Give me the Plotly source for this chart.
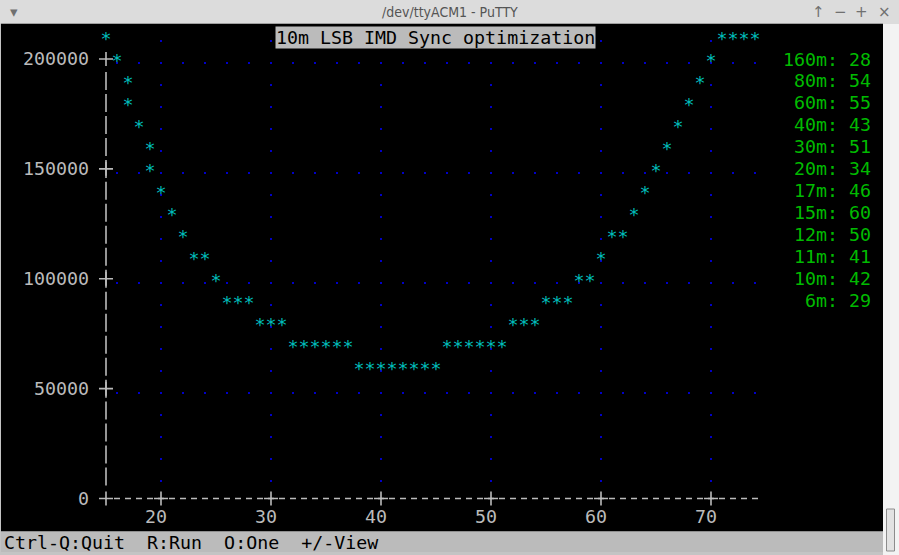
import plotly.graph_objects as go

# ---------------- data ----------------
x_vals = [15, 16, 17, 17, 18, 19, 19, 20, 21, 22, 23, 24, 25,
          26, 27, 28, 29, 30, 31,
          32, 33, 34, 35, 36, 37,
          38, 39, 40, 41, 42, 43, 44, 45,
          46, 47, 48, 49, 50, 51,
          52, 53, 54, 55, 56, 57, 58, 59, 60, 61, 62,
          63, 64, 65, 66, 67, 68, 69, 70, 71, 72, 73, 74]
y_vals = [210000, 200000, 190000, 180000, 170000, 160000, 150000, 140000, 130000, 120000, 110000, 110000, 100000,
          90000, 90000, 90000, 80000, 80000, 80000,
          70000, 70000, 70000, 70000, 70000, 70000,
          60000, 60000, 60000, 60000, 60000, 60000, 60000, 60000,
          70000, 70000, 70000, 70000, 70000, 70000,
          80000, 80000, 80000, 90000, 90000, 90000, 100000, 100000, 110000, 120000, 120000,
          130000, 140000, 150000, 160000, 170000, 180000, 190000, 200000, 210000, 210000, 210000, 210000]

x_ticks = [20, 30, 40, 50, 60, 70]
x_tick_labels = ["20", "30", "40", "50", "60", "70"]
y_ticks = [0, 50000, 100000, 150000, 200000]
y_tick_labels = ["0", "50000", "100000", "150000", "200000"]

bands = ["160m", "80m", "60m", "40m", "30m", "20m", "17m", "15m", "12m", "11m", "10m", "6m"]
band_values = [28, 54, 55, 43, 51, 34, 46, 60, 50, 41, 42, 29]

title_text = "10m LSB IMD Sync optimization"
status_text = "Ctrl-Q:Quit  R:Run  O:One  +/-View"
window_title = "/dev/ttyACM1 - PuTTY"

# ---------------- geometry / style ----------------
W, H = 899, 555
X_LO, X_HI = 14, 76
PX_PER_X = 11.0
L = 95.0
R = L + (X_HI - X_LO) * PX_PER_X
ROW = 21.975            # px per 10000
STEP = 10000
Y0_PX = 498.5
T, B = 18.0, 500.0
Y_LO = -(B - Y0_PX) / ROW * STEP
Y_HI = (Y0_PX - T) / ROW * STEP
SHIFT = 3.9 / ROW * STEP  # overlay axis for glyph baseline / grid dots

FONT = "DejaVu Sans Mono"
FS = 18.3
FG = "#BBBBBB"
CYAN = "#00BBBB"
GREEN = "#00BB00"
BLUE = "#0000C8"


def pxx(px):
    return (px - L) / (R - L)


def pxy(py):
    return (B - py) / (B - T)


# dot patterns for grid (terminal '.' characters)
h_dash = "0px,20.5px," + ",".join(["2px,20px"] * 29) + ",2px,300px"
v_dash = "0px,22px," + ",".join(["2px,19.975px"] * 20) + ",2px,300px"

fig = go.Figure()

# star glyphs
fig.add_trace(go.Scatter(
    x=x_vals, y=y_vals, mode="text", text=["*"] * len(x_vals),
    textfont=dict(family=FONT, size=FS, color=CYAN),
    yaxis="y2", cliponaxis=False, hoverinfo="skip", showlegend=False))

# '+' tick crosses on axes
fig.add_trace(go.Scatter(
    x=[X_LO + 1] * len(y_ticks) + x_ticks,
    y=y_ticks + [0] * len(x_ticks),
    mode="markers",
    marker=dict(symbol="cross-thin", size=10, line=dict(width=1.6, color=FG)),
    cliponaxis=False, hoverinfo="skip", showlegend=False))

shapes = [
    # window frame pieces (paper)
    dict(type="rect", xref="paper", yref="paper", x0=pxx(1), x1=pxx(883), y0=pxy(23.5), y1=pxy(531.5),
         fillcolor="black", line=dict(width=0), layer="below"),
    dict(type="rect", xref="paper", yref="paper", x0=pxx(1), x1=pxx(883), y0=pxy(531.5), y1=pxy(552),
         fillcolor="#BBBBBB", line=dict(width=0), layer="below"),
    dict(type="rect", xref="paper", yref="paper", x0=pxx(883), x1=pxx(899), y0=pxy(23.5), y1=pxy(555),
         fillcolor="#F3F3F3", line=dict(width=0), layer="below"),
    dict(type="rect", xref="paper", yref="paper", x0=pxx(886.5), x1=pxx(894.5), y0=pxy(509), y1=pxy(551),
         fillcolor="#E2E2E2", line=dict(width=1, color="#8C8C8C"), layer="below"),
    dict(type="rect", xref="paper", yref="paper", x0=pxx(0), x1=pxx(899), y0=pxy(0), y1=pxy(23.5),
         fillcolor="#DCDCDC", line=dict(width=0), layer="below"),
    # axis lines made of '|' and '-' characters
    dict(type="line", xref="x", yref="y", x0=X_LO + 1, x1=X_LO + 1,
         y0=STEP * (1 - 9.0 / ROW), y1=STEP * (19 + 9.0 / ROW),
         line=dict(color=FG, width=1.6, dash="18px,3.975px"), layer="below"),
    dict(type="line", xref="x", yref="y", x0=X_LO + 2 - 3.0 / PX_PER_X, x1=74 + 3.0 / PX_PER_X,
         y0=0, y1=0, line=dict(color=FG, width=1.6, dash="6px,5px"), layer="below"),
]

annotations = [
    dict(text=title_text, xref="paper", yref="y", x=pxx(435.5), y=210000,
         xanchor="center", yanchor="middle", showarrow=False, bgcolor="#BBBBBB",
         borderpad=0, font=dict(family=FONT, size=FS, color="black")),
    dict(text=status_text, xref="paper", yref="paper", x=pxx(1.5), y=pxy(542),
         xanchor="left", yanchor="middle", showarrow=False,
         font=dict(family=FONT, size=FS, color="black")),
    dict(text=window_title, xref="paper", yref="paper", x=pxx(449.5), y=pxy(12),
         xanchor="center", yanchor="middle", showarrow=False,
         font=dict(family="Liberation Sans Narrow, DejaVu Sans Condensed, Liberation Sans", size=14, color="#555555")),
]
for gx, gch in zip([14, 818, 840, 862, 884], ["▾", "↑", "−", "+", "×"]):
    annotations.append(dict(text=gch, xref="paper", yref="paper", x=pxx(gx), y=pxy(12),
                            xanchor="center", yanchor="middle", showarrow=False,
                            font=dict(family="DejaVu Sans", size=15, color="#707070")))
for i, (b, v) in enumerate(zip(bands, band_values)):
    annotations.append(dict(text=f"{b}: {v}", xref="paper", yref="y", x=pxx(873), y=200000 - i * STEP,
                            xanchor="right", yanchor="middle", showarrow=False,
                            font=dict(family=FONT, size=FS, color=GREEN)))

fig.update_layout(
    width=W, height=H,
    margin=dict(l=L, r=W - R, t=T, b=H - B, pad=0, autoexpand=False),
    paper_bgcolor="#C4C4C4", plot_bgcolor="rgba(0,0,0,0)",
    showlegend=False, shapes=shapes, annotations=annotations,
    xaxis=dict(range=[X_LO, X_HI], tickvals=x_ticks, ticktext=x_tick_labels,
               showgrid=True, gridcolor=BLUE, gridwidth=2, griddash=v_dash,
               zeroline=False, showline=False, ticks="", automargin=False,
               tickfont=dict(family=FONT, size=FS, color=FG),
               ticklabelshift=-5, ticklabelstandoff=4, fixedrange=True),
    yaxis=dict(range=[Y_LO, Y_HI], tickvals=y_ticks, ticktext=y_tick_labels,
               showgrid=False, zeroline=False, showline=False, ticks="", automargin=False,
               tickfont=dict(family=FONT, size=FS, color=FG),
               ticklabelstandoff=5, fixedrange=True),
    yaxis2=dict(range=[Y_LO + SHIFT, Y_HI + SHIFT], overlaying="y", side="left",
                tickvals=y_ticks[1:], showticklabels=False,
                showgrid=True, gridcolor=BLUE, gridwidth=2, griddash=h_dash,
                zeroline=False, showline=False, ticks="", automargin=False, fixedrange=True),
)

fig.write_html("out.html", config={"displayModeBar": False},
               post_script="document.body.style.margin='0px';document.body.style.overflow='hidden';")
